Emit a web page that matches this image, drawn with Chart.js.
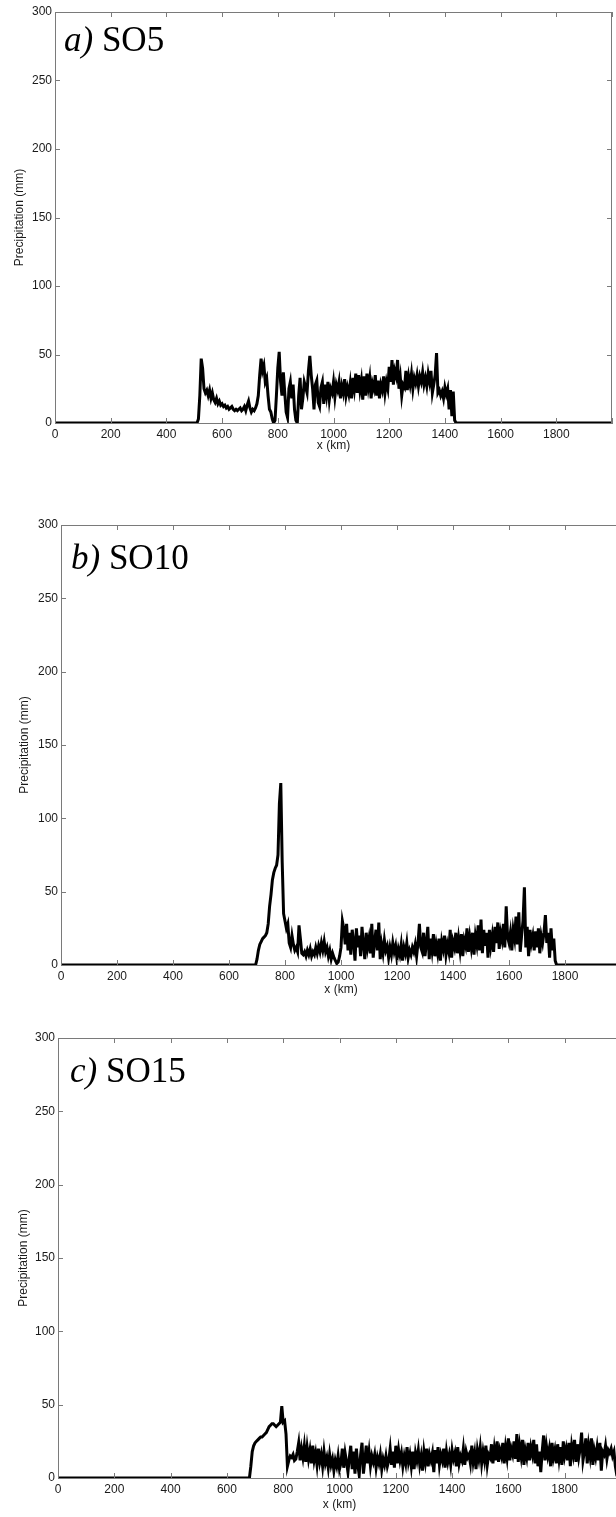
<!DOCTYPE html>
<html>
<head>
<meta charset="utf-8">
<script src="https://cdn.jsdelivr.net/npm/chart.js@4.4.1/dist/chart.umd.min.js"></script>
<style>
  html, body { margin: 0; padding: 0; background: #fff; }
  body { width: 616px; height: 1517px; position: relative; overflow: hidden; }
  .panel { position: absolute; left: 0; }
</style>
</head>
<body>
<canvas id="chartA" class="panel"></canvas>
<canvas id="chartB" class="panel"></canvas>
<canvas id="chartC" class="panel"></canvas>
<script>
// ---- data: precipitation (mm), sampled every 5 km over the rainy stretch ----
const STEP_KM = 5;
const X_TICKS = [0, 200, 400, 600, 800, 1000, 1200, 1400, 1600, 1800, 2000];
const Y_TICKS = [0, 50, 100, 150, 200, 250, 300];

// SO5: rain from ~515 km to ~1440 km
const startA = 505;
const precipA = [
  0, 0, 3, 20, 47, 40, 25, 22, 24, 20,
  24, 18, 22, 17, 15, 18, 14, 16, 13, 14,
  12, 13, 11, 12, 10, 11, 12, 10, 9, 10,
  9, 10, 11, 9, 10, 12, 9, 13, 16, 11,
  8, 10, 9, 11, 14, 20, 35, 47, 38, 42,
  30, 33, 20, 10, 8, 3, 0, 2, 20, 40,
  52, 30, 20, 37, 22, 8, 4, 25, 30, 18,
  28, 10, 2, 0, 20, 33, 10, 18, 30, 26,
  22, 38, 49, 35, 25, 10, 28, 31, 15, 12,
  26, 30, 14, 28, 20, 30, 17, 25, 22, 30,
  19, 28, 24, 30, 18, 27, 22, 32, 20, 26,
  21, 29, 18, 33, 25, 36, 22, 35, 24, 31,
  17, 34, 20, 36, 26, 33, 18, 29, 25, 35,
  20, 31, 18, 28, 24, 34, 22, 30, 25, 41,
  30, 46, 28, 38, 34, 46, 25, 33, 20, 28,
  26, 38, 24, 34, 28, 36, 25, 33, 29, 35,
  27, 34, 30, 37, 28, 33, 27, 36, 30, 38,
  22, 28, 35, 51, 22, 24, 20, 23, 18, 26,
  21, 25, 10, 24, 5, 23, 2, 0
];

// SO10: rain from ~695 km to ~1770 km
const startB = 690;
const precipB = [
  0, 0, 4, 10, 14, 16, 18, 19, 20, 22,
  28, 40, 48, 58, 63, 66, 68, 75, 110, 124,
  70, 35, 30, 25, 28, 15, 12, 20, 14, 10,
  12, 9, 27, 18, 8, 7, 9, 6, 10, 7,
  11, 6, 9, 7, 12, 8, 13, 9, 15, 10,
  16, 9, 12, 6, 10, 4, 8, 5, 3, 1,
  2, 6, 12, 30, 25, 14, 28, 10, 22, 7,
  24, 16, 3, 25, 12, 20, 6, 26, 14, 4,
  22, 12, 18, 8, 28, 5, 16, 24, 10, 29,
  4, 14, 8, 17, 10, 13, 5, 12, 7, 15,
  9, 13, 4, 11, 7, 14, 3, 12, 8, 15,
  5, 10, 7, 12, 9, 14, 6, 15, 28, 12,
  9, 22, 6, 15, 26, 4, 18, 10, 21, 6,
  14, 8, 18, 3, 16, 11, 20, 7, 14, 9,
  24, 5, 16, 12, 22, 8, 18, 10, 21, 6,
  17, 13, 25, 9, 19, 12, 22, 7, 20, 14,
  27, 10, 31, 8, 24, 13, 22, 5, 24, 13,
  20, 9, 26, 15, 29, 11, 22, 17, 28, 12,
  40, 19, 15, 22, 10, 24, 18, 33, 14, 36,
  9, 20, 30, 53, 12, 26, 6, 24, 15, 20,
  10, 23, 12, 25, 8, 20, 15, 22, 34, 15,
  22, 5, 25, 10, 18, 3, 0
];

// SO15: rain from ~685 km to the end of the domain
const startC = 680;
const precipC = [
  0, 8, 18, 22, 24, 25, 26, 27, 28, 28,
  29, 30, 31, 33, 35, 36, 37, 37, 36, 35,
  36, 37, 38, 49, 38, 39, 30, 8, 12, 15,
  14, 16, 12, 13, 18, 24, 12, 20, 14, 22,
  11, 21, 13, 19, 10, 22, 12, 17, 9, 20,
  11, 16, 8, 18, 10, 14, 7, 16, 9, 13,
  5, 12, 8, 15, 6, 10, 20, 7, 17, 11,
  4, 14, 22, 6, 18, 3, 20, 9, 2, 16,
  24, 3, 12, 22, 10, 18, 8, 15, 11, 16,
  7, 14, 10, 16, 6, 13, 9, 15, 8, 12,
  20, 9, 18, 7, 22, 10, 19, 12, 17, 8,
  15, 10, 21, 11, 16, 8, 18, 6, 17, 12,
  19, 9, 15, 5, 18, 11, 20, 8, 16, 12,
  17, 4, 19, 10, 21, 9, 16, 12, 20, 7,
  18, 11, 16, 9, 19, 13, 17, 8, 21, 10,
  15, 12, 20, 9, 18, 14, 16, 10, 22, 11,
  17, 6, 19, 13, 21, 10, 18, 12, 22, 9,
  16, 14, 23, 10, 20, 12, 25, 11, 19, 15,
  24, 10, 21, 14, 27, 12, 20, 16, 25, 13,
  30, 11, 22, 15, 26, 9, 19, 14, 24, 12,
  21, 16, 26, 10, 23, 8, 18, 4, 18, 29,
  12, 22, 15, 20, 8, 24, 14, 19, 10, 23,
  13, 21, 9, 25, 15, 20, 12, 24, 8, 22,
  16, 26, 11, 23, 14, 20, 31, 12, 18, 27,
  10, 22, 15, 27, 9, 19, 14, 21, 12, 24,
  5, 18, 16, 22, 13, 19, 17, 20, 15, 18,
  8, 2, 0
];

const panels = [
  { id: "chartA", label: "a)", name: "SO5",  start: startA, values: precipA,
    top: 0,    width: 616, height: 460, yWidth: 55, xHeight: 37, padTop: 12, padRight: 2.5,
    yTitlePad: 12, xTitlePad: 7, labelDx: 9, labelDy: 39 },
  { id: "chartB", label: "b)", name: "SO10", start: startB, values: precipB,
    top: 500,  width: 625, height: 500, yWidth: 61, xHeight: 35, padTop: 25, padRight: 4,
    yTitlePad: 17, xTitlePad: 3, labelDx: 10, labelDy: 44 },
  { id: "chartC", label: "c)", name: "SO15", start: startC, values: precipC,
    top: 1013, width: 625, height: 504, yWidth: 58, xHeight: 39, padTop: 25, padRight: 4,
    yTitlePad: 16, xTitlePad: 5, labelDx: 12, labelDy: 44 },
];

const AXIS_GREY = "#7a7a7a";
const TEXT_COL = "#1a1a1a";
const TICK_LEN = 5;
const SANS = '"Liberation Sans", Arial, sans-serif';
const SERIF = '"Liberation Serif", "DejaVu Serif", serif';

// box round the plot, inward ticks on all four sides, and the panel tag
const boxAndTicks = {
  id: "boxAndTicks",
  afterDraw(chart) {
    const { ctx, chartArea: a, scales: { x, y } } = chart;
    const p = chart.options.plugins.boxAndTicks;
    ctx.save();
    ctx.strokeStyle = AXIS_GREY;
    ctx.lineWidth = 1;
    ctx.beginPath();
    ctx.moveTo(a.left, a.top + 0.5);
    ctx.lineTo(a.right, a.top + 0.5);
    ctx.moveTo(a.right - 0.5, a.top);
    ctx.lineTo(a.right - 0.5, a.bottom);
    x.ticks.forEach((t) => {
      const px = Math.round(x.getPixelForValue(t.value)) + 0.5;
      ctx.moveTo(px, a.bottom);
      ctx.lineTo(px, a.bottom - TICK_LEN);
      ctx.moveTo(px, a.top);
      ctx.lineTo(px, a.top + TICK_LEN);
    });
    y.ticks.forEach((t) => {
      const py = Math.round(y.getPixelForValue(t.value)) + 0.5;
      ctx.moveTo(a.left, py);
      ctx.lineTo(a.left + TICK_LEN, py);
      ctx.moveTo(a.right, py);
      ctx.lineTo(a.right - TICK_LEN, py);
    });
    ctx.stroke();

    ctx.fillStyle = "#000";
    ctx.textBaseline = "alphabetic";
    const tx = a.left + p.dx;
    const ty = a.top + p.dy;
    ctx.font = "italic 35px " + SERIF;
    ctx.fillText(p.label, tx, ty);
    const w = ctx.measureText(p.label + " ").width;
    ctx.font = "35px " + SERIF;
    ctx.fillText(p.name, tx + w, ty);
    ctx.restore();
  },
};

function buildPoints(start, values) {
  const pts = [{ x: 0, y: 0 }];
  values.forEach((v, i) => pts.push({ x: start + i * STEP_KM, y: v }));
  pts.push({ x: 2000, y: 0 });
  return pts;
}

panels.forEach((cfg) => {
  const canvas = document.getElementById(cfg.id);
  canvas.width = cfg.width;
  canvas.height = cfg.height;
  canvas.style.top = cfg.top + "px";

  new Chart(canvas.getContext("2d"), {
    type: "line",
    data: {
      datasets: [{
        data: buildPoints(cfg.start, cfg.values),
        borderColor: "#000",
        borderWidth: 3,
        pointRadius: 0,
        tension: 0,
        fill: false,
      }],
    },
    options: {
      responsive: false,
      animation: false,
      devicePixelRatio: 1,
      layout: { padding: { top: cfg.padTop, right: cfg.padRight, left: 0, bottom: 0 } },
      plugins: {
        legend: { display: false },
        tooltip: { enabled: false },
        boxAndTicks: { label: cfg.label, name: cfg.name, dx: cfg.labelDx, dy: cfg.labelDy },
      },
      scales: {
        x: {
          type: "linear",
          min: 0,
          max: 2000,
          afterBuildTicks: (s) => { s.ticks = X_TICKS.map((v) => ({ value: v })); },
          afterFit: (s) => { s.height = cfg.xHeight; },
          grid: { display: false, drawTicks: false },
          border: { display: true, color: AXIS_GREY, width: 1 },
          ticks: {
            padding: 4,
            maxRotation: 0,
            autoSkip: false,
            color: TEXT_COL,
            font: { family: SANS, size: 12 },
            callback: (v) => (v === 2000 ? "" : v),
          },
          title: {
            display: true,
            text: "x (km)",
            color: TEXT_COL,
            padding: { top: 0, bottom: cfg.xTitlePad },
            font: { family: SANS, size: 12 },
          },
        },
        y: {
          min: 0,
          max: 300,
          afterBuildTicks: (s) => { s.ticks = Y_TICKS.map((v) => ({ value: v })); },
          afterFit: (s) => { s.width = cfg.yWidth; },
          grid: { display: false, drawTicks: false },
          border: { display: true, color: AXIS_GREY, width: 1 },
          ticks: {
            padding: 3,
            color: TEXT_COL,
            font: { family: SANS, size: 12 },
          },
          title: {
            display: true,
            text: "Precipitation (mm)",
            color: TEXT_COL,
            padding: { top: cfg.yTitlePad, bottom: 0 },
            font: { family: SANS, size: 12 },
          },
        },
      },
    },
    plugins: [boxAndTicks],
  });
});
</script>
</body>
</html>
